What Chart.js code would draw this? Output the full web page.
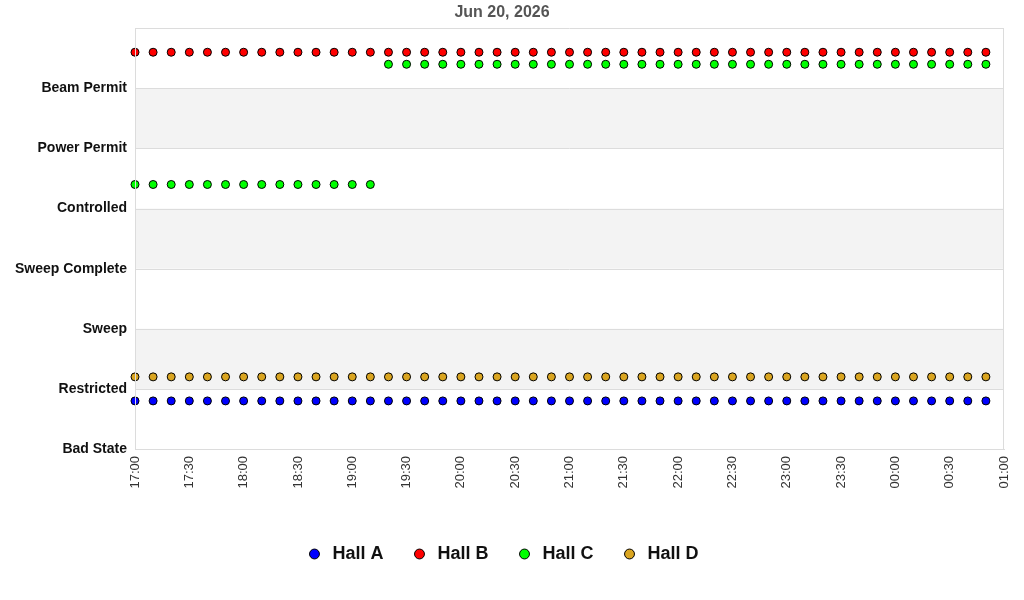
<!DOCTYPE html>
<html>
<head>
<meta charset="utf-8">
<script src="https://cdn.jsdelivr.net/npm/chart.js@4.4.1/dist/chart.umd.min.js"></script>
<style>
  body { margin: 0; background: #fff; }
  #wrap { width: 1024px; height: 600px; }
</style>
</head>
<body>
<div id="wrap"><canvas id="myChart" width="1024" height="600"></canvas></div>
<script>
const titulo = 'Jun 20, 2026';

const times = [
    '17:00', '17:10', '17:20', '17:30', '17:40', '17:50',
    '18:00', '18:10', '18:20', '18:30', '18:40', '18:50',
    '19:00', '19:10', '19:20', '19:30', '19:40', '19:50',
    '20:00', '20:10', '20:20', '20:30', '20:40', '20:50',
    '21:00', '21:10', '21:20', '21:30', '21:40', '21:50',
    '22:00', '22:10', '22:20', '22:30', '22:40', '22:50',
    '23:00', '23:10', '23:20', '23:30', '23:40', '23:50',
    '00:00', '00:10', '00:20', '00:30', '00:40', '00:50',
    '01:00'
];

const stateNames = ['Bad State', 'Restricted', 'Sweep', 'Sweep Complete', 'Controlled', 'Power Permit', 'Beam Permit'];

const hallNames = ['Hall A', 'Hall B', 'Hall C', 'Hall D'];
const hallColors = ['#0000ff', '#ff0000', '#00ff00', '#daa520'];
const hallOffsets = [-0.2, 0.6, 0.4, 0.2];

// state index per 10 minute sample
const hallA = [1,1,1,1,1,1, 1,1,1,1,1,1, 1,1,1,1,1,1, 1,1,1,1,1,1, 1,1,1,1,1,1, 1,1,1,1,1,1, 1,1,1,1,1,1, 1,1,1,1,1,1];
const hallB = [6,6,6,6,6,6, 6,6,6,6,6,6, 6,6,6,6,6,6, 6,6,6,6,6,6, 6,6,6,6,6,6, 6,6,6,6,6,6, 6,6,6,6,6,6, 6,6,6,6,6,6];
const hallC = [4,4,4,4,4,4, 4,4,4,4,4,4, 4,4,6,6,6,6, 6,6,6,6,6,6, 6,6,6,6,6,6, 6,6,6,6,6,6, 6,6,6,6,6,6, 6,6,6,6,6,6];
const hallD = [1,1,1,1,1,1, 1,1,1,1,1,1, 1,1,1,1,1,1, 1,1,1,1,1,1, 1,1,1,1,1,1, 1,1,1,1,1,1, 1,1,1,1,1,1, 1,1,1,1,1,1];

const hallData = [hallA, hallB, hallC, hallD];

const bandasPlugin = {
    id: 'bandas',
    beforeDatasetsDraw(chart) {
        const { ctx, chartArea, scales } = chart;
        const y = scales.y;
        ctx.save();
        ctx.fillStyle = '#f3f3f3';
        [1, 3, 5].forEach(v => {
            const top = y.getPixelForValue(v + 1);
            const bottom = y.getPixelForValue(v);
            ctx.fillRect(chartArea.left, top, chartArea.right - chartArea.left, bottom - top);
        });
        ctx.strokeStyle = '#dcdcdc';
        ctx.lineWidth = 1;
        for (let v = 0; v <= 7; v++) {
            const py = Math.round(y.getPixelForValue(v)) + 0.5;
            ctx.beginPath();
            ctx.moveTo(chartArea.left, py);
            ctx.lineTo(chartArea.right, py);
            ctx.stroke();
        }
        ctx.beginPath();
        ctx.moveTo(Math.round(chartArea.right) - 0.5, chartArea.top);
        ctx.lineTo(Math.round(chartArea.right) - 0.5, chartArea.bottom);
        ctx.stroke();
        ctx.restore();
    },
    afterDatasetsDraw(chart) {
        // left axis line sits on top of the first points
        const { ctx, chartArea } = chart;
        ctx.save();
        ctx.strokeStyle = '#dcdcdc';
        ctx.lineWidth = 1;
        ctx.beginPath();
        ctx.moveTo(Math.round(chartArea.left) + 0.5, chartArea.top);
        ctx.lineTo(Math.round(chartArea.left) + 0.5, chartArea.bottom);
        ctx.stroke();
        ctx.restore();
    }
};

const datasets = hallNames.map((nombre, i) => ({
    label: nombre,
    data: hallData[i].map(s => s + hallOffsets[i]),
    showLine: false,
    pointStyle: 'circle',
    pointRadius: 4,
    pointHoverRadius: 4,
    pointBackgroundColor: hallColors[i],
    pointBorderColor: '#000',
    pointBorderWidth: 1,
    backgroundColor: hallColors[i],
    borderColor: '#000',
    borderWidth: 1
}));

const ctx = document.getElementById('myChart').getContext('2d');
const grafica = new Chart(ctx, {
    type: 'line',
    data: { labels: times, datasets: datasets },
    plugins: [bandasPlugin],
    options: {
        responsive: false,
        animation: false,
        layout: { padding: { left: 0, right: 20, top: 0, bottom: 27 } },
        plugins: {
            title: {
                display: true,
                text: titulo,
                color: '#555',
                font: { family: 'Liberation Sans, Arial, sans-serif', size: 16, weight: 'bold' },
                padding: { top: 3, bottom: 6 }
            },
            legend: {
                position: 'bottom',
                labels: {
                    usePointStyle: true,
                    boxHeight: 7,
                    padding: 27,
                    color: '#111',
                    font: { family: 'Liberation Sans, Arial, sans-serif', size: 18, weight: 'bold' }
                }
            },
            tooltip: { enabled: false }
        },
        scales: {
            x: {
                type: 'category',
                offset: false,
                grid: { display: false, drawTicks: false },
                border: { color: '#dcdcdc' },
                afterFit(scale) {
                    scale.height = 69;
                    scale.paddingRight = 0;
                    scale.paddingLeft = 0;
                },
                ticks: {
                    autoSkip: false,
                    minRotation: 90,
                    maxRotation: 90,
                    padding: 7,
                    color: '#333',
                    font: { family: 'Liberation Sans, Arial, sans-serif', size: 13 },
                    callback(value, index) {
                        return index % 3 === 0 ? times[index] : null;
                    }
                }
            },
            y: {
                min: 0,
                max: 7,
                grid: { display: false, drawTicks: false },
                border: { display: false },
                afterFit(scale) { scale.width = 135; },
                ticks: {
                    stepSize: 1,
                    padding: 8,
                    color: '#111',
                    font: { family: 'Liberation Sans, Arial, sans-serif', size: 14, weight: 'bold' },
                    callback(value) {
                        return stateNames[value] || '';
                    }
                }
            }
        }
    }
});
</script>
</body>
</html>
